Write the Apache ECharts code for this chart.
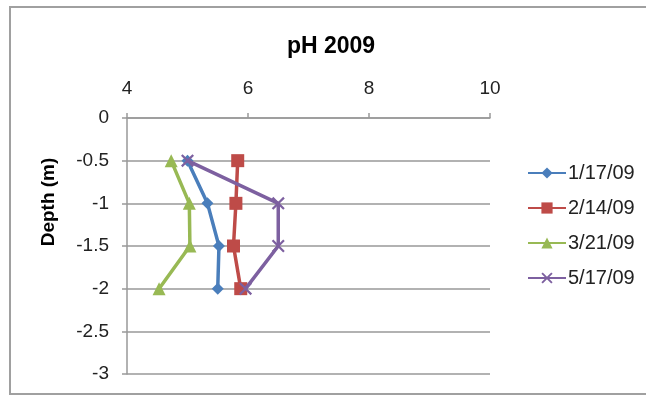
<!DOCTYPE html>
<html><head><meta charset="utf-8">
<script src="https://cdn.jsdelivr.net/npm/echarts@6/dist/echarts.min.js"></script>
<style>html,body{margin:0;padding:0;background:#fff}#c{width:646px;height:396px}</style>
</head><body><div id="c"></div>
<script>
const depths = [-0.5, -1, -1.5, -2];
const seriesNames = ['1/17/09', '2/14/09', '3/21/09', '5/17/09'];
const ph_0117 = [5.0, 5.33, 5.52, 5.5];
const ph_0214 = [5.83, 5.8, 5.76, 5.88];
const ph_0321 = [4.73, 5.03, 5.04, 4.53];
const ph_0517 = [5.0, 6.5, 6.5, 5.96];
const xTicks = [4, 6, 8, 10];
const yTicks = [0, -0.5, -1, -1.5, -2, -2.5, -3];

const values = [ph_0117, ph_0214, ph_0321, ph_0517];
const colors = ['#4A7EBB', '#BE4B48', '#98B954', '#7D60A0'];
const xPath = 'path://M0,1.2 L1.2,0 L5,3.8 L8.8,0 L10,1.2 L6.2,5 L10,8.8 L8.8,10 L5,6.2 L1.2,10 L0,8.8 L3.8,5 Z';
const symbols = ['diamond', 'rect', 'triangle', xPath];
const sizes = [12, 13, 13, 13];
const font = 'Liberation Sans, Arial, sans-serif';

const chart = echarts.init(document.getElementById('c'));
chart.setOption({
  animation: false,
  backgroundColor: '#fff',
  graphic: [
    {type: 'rect', shape: {x: 10, y: 7, width: 700, height: 387},
     style: {fill: 'none', stroke: '#a0a0a0', lineWidth: 2}},
    {type: 'text', x: 331, y: 47,
     style: {text: 'pH 2009', font: 'bold 23px ' + font, fill: '#000', align: 'center', verticalAlign: 'middle'}},
    {type: 'text', x: 49, y: 202, rotation: Math.PI / 2,
     style: {text: 'Depth (m)', font: 'bold 19px ' + font, fill: '#000', align: 'center', verticalAlign: 'middle'}}
  ],
  grid: {left: 127, top: 118, width: 363, height: 256, containLabel: false},
  xAxis: {
    type: 'value', position: 'top', min: xTicks[0], max: xTicks[xTicks.length - 1], interval: 2,
    axisLine: {show: true, lineStyle: {color: '#999', width: 1.5}},
    axisTick: {show: true, inside: false, length: 5, lineStyle: {color: '#999', width: 1.5}},
    axisLabel: {fontFamily: font, fontSize: 19, color: '#222', margin: 20},
    splitLine: {show: false}
  },
  yAxis: {
    type: 'value', min: yTicks[yTicks.length - 1], max: yTicks[0], interval: 0.5,
    axisLine: {show: true, lineStyle: {color: '#999', width: 1.5}},
    axisTick: {show: true, inside: false, length: 5, lineStyle: {color: '#999', width: 1.5}},
    axisLabel: {fontFamily: font, fontSize: 19, color: '#222', margin: 18},
    splitLine: {show: true, lineStyle: {color: '#999', width: 1.5}}
  },
  legend: {
    orient: 'vertical', left: 527, top: 163, padding: 0, itemWidth: 38, itemHeight: 14, itemGap: 15,
    textStyle: {fontFamily: font, fontSize: 20, color: '#222', lineHeight: 20, padding: [0, 0, 0, -3]},
    data: seriesNames
  },
  series: seriesNames.map((n, i) => ({
    name: n, type: 'line', symbol: symbols[i], symbolSize: sizes[i],
    data: depths.map((d, j) => [values[i][j], d]),
    lineStyle: {color: colors[i], width: 3.5},
    itemStyle: {color: colors[i]},
    z: 2 + i
  }))
});
</script></body></html>
